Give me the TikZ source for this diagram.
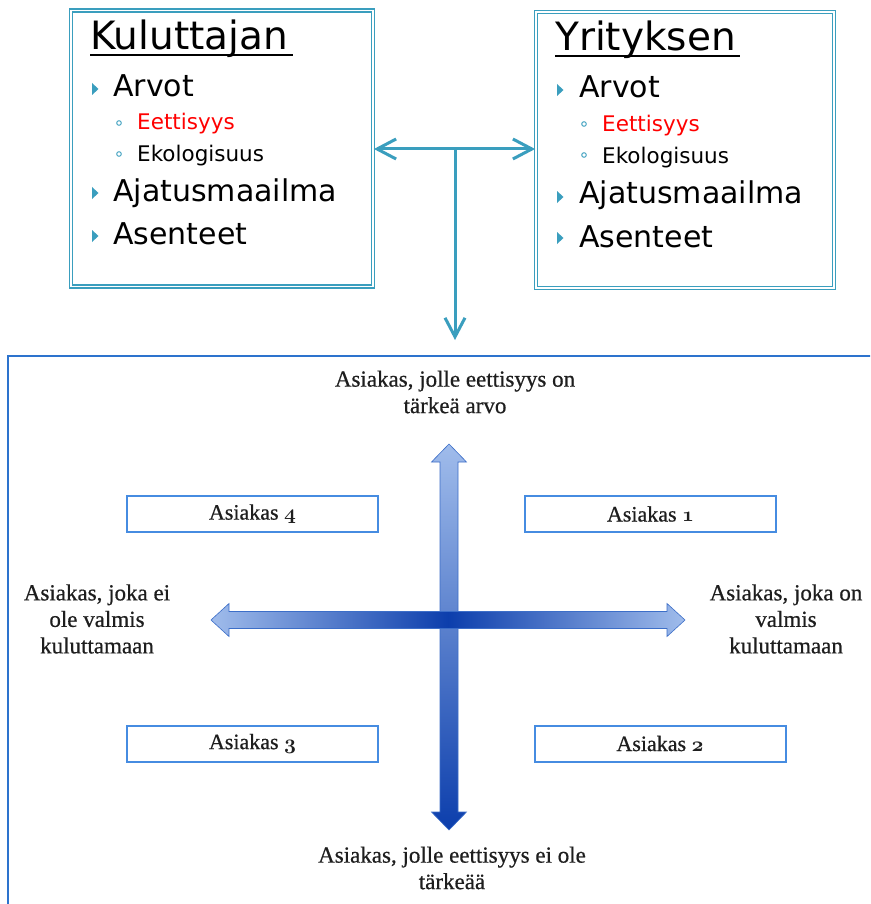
\documentclass[tikz,border=0pt]{standalone}
\usepackage{fontspec}
\newfontfamily\listfont{DejaVu Sans}
\newfontfamily\axisfont[FakeBold=0.6]{Liberation Serif}
\usetikzlibrary{arrows.meta}

% old-style figures taken from the bold math italic font
\newcommand{\osdigit}[1]{{\usefont{OML}{cmm}{b}{it}#1}}

\definecolor{tealline}{RGB}{58,158,190}
\definecolor{frameblue}{RGB}{45,115,205}
\definecolor{quadblue}{RGB}{70,140,225}
\definecolor{axislight}{RGB}{160,188,235}
\definecolor{axisdark}{RGB}{12,62,172}
\definecolor{axisedge}{RGB}{60,110,200}
\definecolor{hotred}{RGB}{255,0,0}
\definecolor{textgrey}{RGB}{30,30,30}

\tikzset{
  panel/.style={rectangle, draw=tealline, double=white, line width=1.8,
    double distance=1.3, inner sep=0},
  title/.style={anchor=base west, inner sep=0,
    font=\listfont\fontsize{39}{45}\selectfont},
  itemA/.style={anchor=base west, inner sep=0,
    font=\listfont\fontsize{30}{36}\selectfont},
  itemB/.style={anchor=base west, inner sep=0,
    font=\listfont\fontsize{21.5}{26}\selectfont},
  tribullet/.style={fill=tealline},
  ringbullet/.style={draw=tealline, line width=0.9},
  barb/.tip={Straight Barb[length=19pt, width=20pt, line width=3pt]},
  conn/.style={draw=tealline, line width=3, line cap=round},
  axislabel/.style={align=center, inner sep=0, text=textgrey,
    font=\axisfont\fontsize{23}{26.5}\selectfont},
  quadbox/.style={rectangle, draw=quadblue, line width=2, fill=white,
    minimum width=251, minimum height=36, inner sep=0, text=textgrey,
    font=\axisfont\fontsize{22}{24}\selectfont},
}

\begin{document}
\begin{tikzpicture}[x=1pt, y=-1pt]
\useasboundingbox (0,0) rectangle (870,904);
\clip (0,0) rectangle (870,904);
\fill[white] (0,0) rectangle (870,904);

% ---- the two value panels ----
\node[panel, minimum width=302, minimum height=276] (kul) at (222,148.5) {};
\node[panel, minimum width=298, minimum height=276] (yri) at (685,150) {};

% left panel contents
\node[title] (kultitle) at (90,50) {Kuluttajan};
\draw[line width=2] (kultitle.base west) ++(0,5) -- ++(203,0);
\fill[tribullet] (92,83) -- (98.5,89) -- (92,95) -- cycle;
\node[itemA] (k1) at (113,97) {Arvot};
\draw[ringbullet] (119,123) circle (2.3);
\node[itemB, text=hotred] (k2) at (137,130) {Eettisyys};
\draw[ringbullet] (119,154) circle (2.3);
\node[itemB] (k3) at (137,162) {Ekologisuus};
\fill[tribullet] (92,187) -- (98.5,193) -- (92,199) -- cycle;
\node[itemA] (k4) at (113,201) {Ajatusmaailma};
\fill[tribullet] (92,230) -- (98.5,236) -- (92,242) -- cycle;
\node[itemA] (k5) at (113,244) {Asenteet};

% right panel contents
\node[title] (yrititle) at (555,51) {Yrityksen};
\draw[line width=2] (yrititle.base west) ++(0,5) -- ++(185,0);
\fill[tribullet] (557,84) -- (563.5,90) -- (557,96) -- cycle;
\node[itemA] (y1) at (579,98) {Arvot};
\draw[ringbullet] (584,124) circle (2.3);
\node[itemB, text=hotred] (y2) at (602,132) {Eettisyys};
\draw[ringbullet] (584,155) circle (2.3);
\node[itemB] (y3) at (602,164) {Ekologisuus};
\fill[tribullet] (557,191) -- (563.5,197) -- (557,203) -- cycle;
\node[itemA] (y4) at (579,204) {Ajatusmaailma};
\fill[tribullet] (557,232) -- (563.5,238) -- (557,244) -- cycle;
\node[itemA] (y5) at (579,247) {Asenteet};

% ---- teal connectors ----
\coordinate (split) at (455,149);
\coordinate (drop) at (455,340);
\draw[conn, barb-barb] (kul.east |- split) -- (yri.west |- split);
\draw[conn, -barb] (split) -- (drop);

% ---- lower frame ----
\draw[frameblue, line width=2] (8,356) rectangle (900,940);

% vertical axis arrow
\path[top color=axislight, bottom color=axisdark, draw=axisedge, line width=0.6]
  (449,444) -- (466.5,462) -- (458,462) -- (458,812) -- (466.5,812)
  -- (449,830) -- (431.5,812) -- (440,812) -- (440,462) -- (431.5,462) -- cycle;

% horizontal axis arrow (dark in the middle, light at both ends)
\path[left color=axislight, right color=axislight, middle color=axisdark,
      draw=axisedge, line width=0.6]
  (211,620) -- (229,603.5) -- (229,611.5) -- (667,611.5) -- (667,603.5)
  -- (685,620) -- (667,636.5) -- (667,628.5) -- (229,628.5) -- (229,636.5) -- cycle;

% axis end labels
\node[axislabel] (ltop) at (455,392) {Asiakas, jolle eettisyys on\\tärkeä arvo};
\node[axislabel] (lbot) at (452,868) {Asiakas, jolle eettisyys ei ole\\tärkeää};
\node[axislabel] (lleft) at (97,619) {Asiakas, joka ei\\ole valmis\\kuluttamaan};
\node[axislabel] (lright) at (786,619) {Asiakas, joka on\\valmis\\kuluttamaan};

% quadrant boxes
\node[quadbox] (q4) at (252.5,514) {Asiakas \osdigit{4}};
\node[quadbox] (q1) at (650.5,514) {Asiakas \osdigit{1}};
\node[quadbox] (q3) at (252.5,743.5) {Asiakas \osdigit{3}};
\node[quadbox] (q2) at (660,743.5) {Asiakas \osdigit{2}};
\end{tikzpicture}
\end{document}
